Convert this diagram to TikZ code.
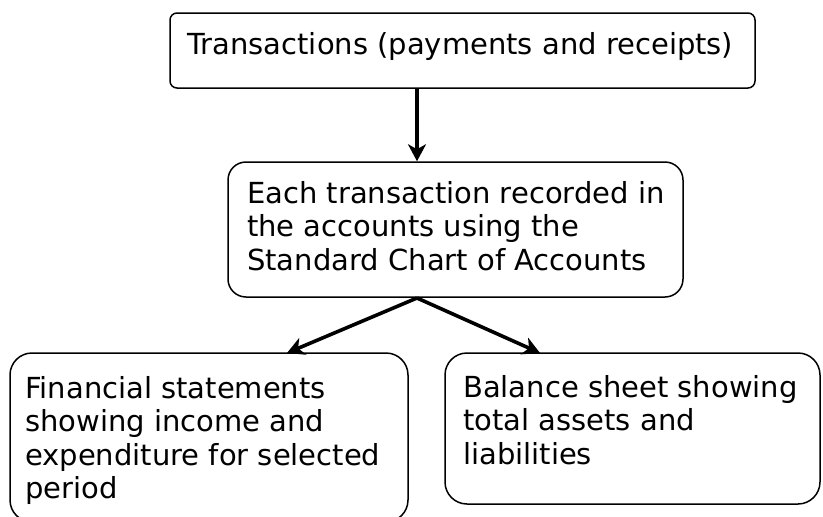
\documentclass[tikz,border=0pt]{standalone}
\usepackage{fontspec}
\setmainfont{DejaVu Sans}
\usetikzlibrary{arrows.meta}
\begin{document}
\begin{tikzpicture}[x=1pt,y=-1pt,
  box/.style={draw=black,line width=1.5pt,inner sep=0pt},
  label/.style={anchor=base west,inner sep=0pt,align=left,
    font=\fontsize{29}{33.5}\selectfont},
  flow/.style={line width=3.6pt,-{Stealth[length=17pt,width=18pt,inset=5pt]}}]
\useasboundingbox (0,0) rectangle (823,517);
\clip (0,0) rectangle (823,517);
% boxes
\node[box,rounded corners=7pt,minimum width=585pt,minimum height=75pt] (top) at (462.5,50.5) {};
\node[box,rounded corners=18pt,minimum width=455pt,minimum height=135pt] (mid) at (455.5,229.5) {};
\node[box,rounded corners=22pt,minimum width=398pt,minimum height=169pt] (left) at (209,437.5) {};
\node[box,rounded corners=22pt,minimum width=375pt,minimum height=151pt] (right) at (632.5,428.5) {};
% texts (anchored at the baseline of their last line)
\node[label] (ttop) at (187,54) {Transactions (payments and receipts)};
\node[label] (tmid) at (247,270) {Each transaction recorded in\\the accounts using the\\Standard Chart of Accounts};
\node[label] (tleft) at (25,498.5) {Financial statements\\showing income and\\expenditure for selected\\period};
\node[label] (tright) at (463,464) {Balance sheet showing\\total assets and\\liabilities};
% connectors
\coordinate (split) at (417,298);
\coordinate (tipL) at (287,353);
\coordinate (tipR) at (540,353);
\draw[flow] (top.south -| split) -- (mid.north -| split);
\draw[flow] (split) -- (tipL);
\draw[flow] (split) -- (tipR);
\end{tikzpicture}
\end{document}
